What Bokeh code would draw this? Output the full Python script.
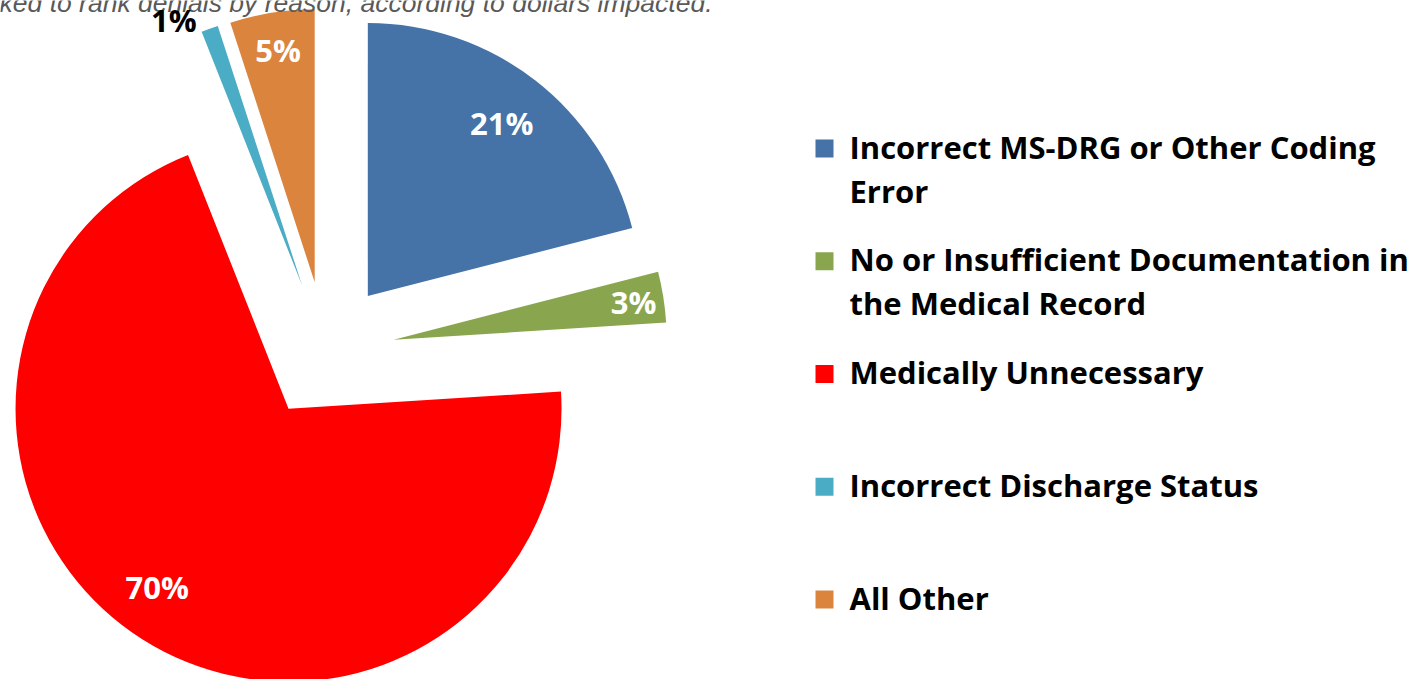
import math
from bokeh.plotting import figure
from bokeh.models import Range1d
from bokeh.embed import file_html
from bokeh.resources import INLINE
from bokeh.core.properties import value

# ---------------- data ----------------
categories = [
    "Incorrect MS-DRG or Other Coding Error",
    "No or Insufficient Documentation in the Medical Record",
    "Medically Unnecessary",
    "Incorrect Discharge Status",
    "All Other",
]
legend_lines = [
    ["Incorrect MS-DRG or Other Coding", "Error"],
    ["No or Insufficient Documentation in", "the Medical Record"],
    ["Medically Unnecessary"],
    ["Incorrect Discharge Status"],
    ["All Other"],
]
shares = [21, 3, 70, 1, 5]
pct_labels = ["21%", "3%", "70%", "1%", "5%"]
colors = ["#4572A7", "#89A54E", "#FF0000", "#4BACC6", "#DB843D"]
subtitle = "Participants were asked to rank denials by reason, according to dollars impacted."

# ---------------- layout (picture px) ----------------
W, H = 1420, 679


def sy(y):
    return H - y


cx, cy = 325, sy(350)
R = 273
EXPLODE = 69
label_r = [0.80, 0.89, 0.81, 1.08, 0.86]
label_da = [0, 0, 4, -6, 0]
label_colors = ["white", "white", "white", "black", "white"]

p = figure(width=W, height=H, output_backend="svg", toolbar_location=None,
           x_range=Range1d(0, W), y_range=Range1d(0, H),
           min_border=0, outline_line_color=None)
p.axis.visible = False
p.grid.visible = False
p.background_fill_color = "white"

total = float(sum(shares))
cum = 0.0
xs, ys, sa, ea = [], [], [], []
lx, ly = [], []
for i, v in enumerate(shares):
    t1 = cum / total * 2 * math.pi
    t2 = (cum + v) / total * 2 * math.pi
    cum += v
    mid = (t1 + t2) / 2
    ox = cx + EXPLODE * math.sin(mid)
    oy = cy + EXPLODE * math.cos(mid)
    xs.append(ox)
    ys.append(oy)
    sa.append(math.pi / 2 - t2)
    ea.append(math.pi / 2 - t1)
    la = mid + math.radians(label_da[i])
    lx.append(ox + R * label_r[i] * math.sin(la))
    ly.append(oy + R * label_r[i] * math.cos(la))

p.wedge(x=xs, y=ys, radius=R, radius_units="screen", start_angle=sa, end_angle=ea,
        fill_color=colors, line_color=None)

# subtitle (cut off at top in the original)
p.text(x=[712], y=[sy(2)], text=[subtitle], text_color="#595959",
       text_font=value("Liberation Sans"), text_font_style="italic", text_font_size="26.5px",
       text_align="right", text_baseline="alphabetic")

p.text(x=lx, y=ly, text=pct_labels, text_color=label_colors,
       text_font=value("Open Sans"), text_font_style="bold", text_font_size="31px",
       text_align="center", text_baseline="middle")

# legend
row0, row_gap, line_gap = 146, 112.75, 44
sq_x, txt_x = 824, 849
for i, lines in enumerate(legend_lines):
    y0 = row0 + i * row_gap
    p.rect(x=[sq_x], y=[sy(y0 + 2)], width=18, height=18, width_units="screen",
           height_units="screen", fill_color=colors[i], line_color=None)
    p.text(x=[txt_x] * len(lines), y=[sy(y0 + k * line_gap) for k in range(len(lines))],
           text=lines, text_color="black", text_font=value("Open Sans"),
           text_font_style="bold", text_font_size="31px", text_align="left",
           text_baseline="middle")

open("out.html", "w").write(file_html(p, INLINE))
